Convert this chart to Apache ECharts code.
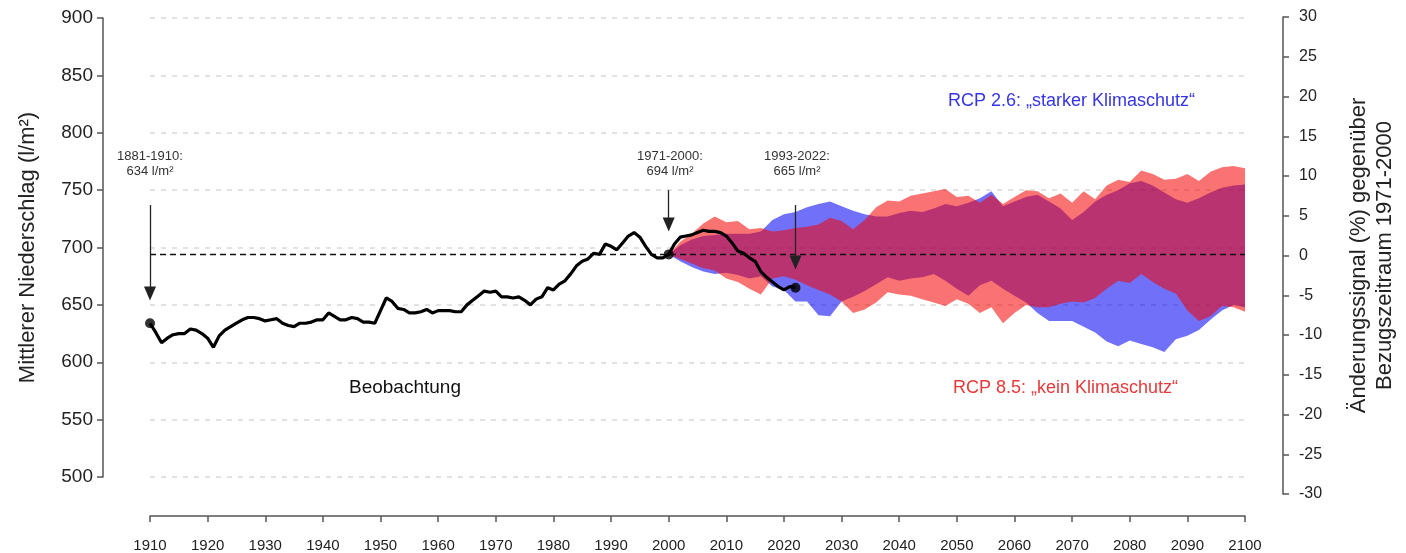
<!DOCTYPE html>
<html>
<head>
<meta charset="utf-8">
<title>Mittlerer Niederschlag</title>
<script src="https://cdn.jsdelivr.net/npm/echarts@6/dist/echarts.min.js"></script>
<style>
    *{margin:0;padding:0;}
    body{background:#fff;}
    #main{width:1406px;height:553px;}
</style>
</head>
<body>
<div id="main"></div>
<script>
    // Beobachtung, gleitendes Mittel (l/m²), ab 1910 jaehrlich
    var obsStart = 1910;
    var obsValues = [
        634,626,617,621,624,625,625,629,628,625,
        621,613,623,628,631,634,637,639,639,638,
        636,637,638,634,632,631,634,634,635,637,
        637,643,640,637,637,639,638,635,635,634,
        645,656,653,647,646,643,643,644,646,643,
        645,645,645,644,644,650,654,658,662,661,
        662,657,657,656,657,654,650,655,657,665,
        663,668,671,677,684,688,690,695,694,703,
        701,698,704,710,713,709,701,694,691,691,
        694,703,709,710,711,713,715,714,714,713,
        710,704,697,695,691,688,679,674,670,666,
        663,666,665
    ];
    var refValue = 694;
    var dotYears = [1910, 2000, 2022];
    var dotValues = [634, 694, 665];

    // Projektionen (Bandbreite)
    var projYears = [2000,2002,2004,2006,2008,2010,2012,2014,2016,2018,
        2020,2022,2024,2026,2028,2030,2032,2034,2036,2038,
        2040,2042,2044,2046,2048,2050,2052,2054,2056,2058,
        2060,2062,2064,2066,2068,2070,2072,2074,2076,2078,
        2080,2082,2084,2086,2088,2090,2092,2094,2096,2098,2100];
    var rcp26High = [694,702,707,710,711,712,712,712,714,724,
        729,731,735,738,740,736,732,729,727,727,
        730,732,731,734,738,736,739,743,749,736,
        740,744,746,740,734,724,731,740,746,750,
        756,758,754,748,742,739,743,748,752,754,755];
    var rcp26Low = [694,688,683,679,677,678,676,673,675,666,
        663,653,653,641,640,653,657,662,668,674,
        671,673,674,677,671,664,658,667,671,664,
        658,652,643,636,636,636,631,626,618,614,
        619,616,613,609,620,623,628,637,645,650,648];
    var rcp85High = [694,705,712,721,727,722,723,716,717,714,
        715,717,718,720,726,723,716,724,735,741,
        740,745,747,749,751,744,745,739,746,738,
        744,750,749,743,747,739,749,742,754,759,
        757,767,764,759,760,764,758,766,770,771,769];
    var rcp85Low = [694,690,686,682,680,673,670,664,659,673,
        675,672,667,663,659,653,643,646,652,661,
        659,658,655,652,649,655,651,643,648,634,
        643,650,648,648,651,653,652,656,664,671,
        669,677,670,664,660,645,636,640,649,648,644];

    // Pfeile: Jahr, Start, Ende
    var arrowYears = [1910, 2000, 2022];
    var arrowFrom = [737, 750, 737];
    var arrowTo = [660, 720, 687];

    var font = '"Liberation Sans", Arial, sans-serif';
    var axisColor = '#555';

    var obsData = [];
    for (var i = 0; i < obsValues.length; i++) {
        obsData.push([obsStart + i, obsValues[i]]);
    }
    var dotData = [];
    for (var i = 0; i < dotYears.length; i++) {
        dotData.push([dotYears[i], dotValues[i]]);
    }
    var arrowData = [];
    for (var i = 0; i < arrowYears.length; i++) {
        arrowData.push([{coord: [arrowYears[i], arrowFrom[i]]}, {coord: [arrowYears[i], arrowTo[i]]}]);
    }

    function band(name, low, high, color) {
        return {
            name: name,
            type: 'custom',
            xAxisIndex: 0,
            yAxisIndex: 0,
            silent: true,
            data: projYears.map(function (y, k) { return [y, low[k], high[k]]; }),
            encode: {x: 0, y: [1, 2]},
            renderItem: function (params, api) {
                if (params.dataIndex !== 0) return null;
                var pts = [];
                for (var k = 0; k < projYears.length; k++) {
                    pts.push(api.coord([projYears[k], high[k]]));
                }
                for (var k = projYears.length - 1; k >= 0; k--) {
                    pts.push(api.coord([projYears[k], low[k]]));
                }
                return {type: 'polygon', shape: {points: pts}, style: {fill: color}};
            }
        };
    }

    var myChart = echarts.init(document.getElementById('main'));
    var option = {
        animation: false,
        textStyle: {fontFamily: font},
        grid: [
            {left: 150, right: 161, top: 18, bottom: 76},
            {left: 150, right: 161, top: 17, bottom: 59}
        ],
        xAxis: [
            {
                gridIndex: 0, type: 'value', min: 1910, max: 2100, interval: 10, offset: 39,
                axisLine: {show: true, lineStyle: {color: axisColor, width: 1.5}},
                axisTick: {show: true, length: 6, lineStyle: {color: axisColor, width: 1.5}},
                axisLabel: {margin: 22, fontSize: 15, color: '#222', fontFamily: font,
                    formatter: function (v) { return String(v); }},
                splitLine: {show: false}
            },
            {gridIndex: 1, type: 'value', min: 1910, max: 2100, show: false}
        ],
        yAxis: [
            {
                gridIndex: 0, type: 'value', min: 500, max: 900, interval: 50,
                position: 'left', offset: 47,
                name: 'Mittlerer Niederschlag (l/m²)', nameLocation: 'middle', nameGap: 64,
                nameTextStyle: {fontSize: 22, color: '#222', fontFamily: font},
                axisLine: {show: true, lineStyle: {color: axisColor, width: 1.5}},
                axisTick: {show: true, length: 6, lineStyle: {color: axisColor, width: 1.5}},
                axisLabel: {margin: 10, fontSize: 19, color: '#222', fontFamily: font},
                splitLine: {show: true, lineStyle: {color: '#d9d9d9', type: [5, 6], width: 1.5}}
            },
            {
                gridIndex: 1, type: 'value', min: -30, max: 30, interval: 5,
                position: 'right', offset: 51,
                name: 'Änderungssignal (%) gegenüber\nBezugszeitraum 1971-2000',
                nameLocation: 'middle', nameGap: 63,
                nameTextStyle: {fontSize: 22, color: '#222', lineHeight: 26, fontFamily: font},
                axisLine: {show: true, lineStyle: {color: axisColor, width: 1.5}},
                axisTick: {show: true, length: 6, lineStyle: {color: axisColor, width: 1.5}},
                axisLabel: {margin: 16, fontSize: 16, color: '#222', fontFamily: font},
                splitLine: {show: false}
            }
        ],
        series: [
            band('RCP 2.6', rcp26Low, rcp26High, 'rgba(0,0,245,0.56)'),
            band('RCP 8.5', rcp85Low, rcp85High, 'rgba(245,0,0,0.55)'),
            {
                name: 'Referenz',
                type: 'line',
                xAxisIndex: 0, yAxisIndex: 0,
                data: [[1910, refValue], [2100, refValue]],
                symbol: 'none',
                silent: true,
                lineStyle: {color: '#111', width: 1.5, type: [6, 4]}
            },
            {
                name: 'Beobachtung',
                type: 'line',
                xAxisIndex: 0, yAxisIndex: 0,
                data: obsData,
                symbol: 'none',
                silent: true,
                lineStyle: {color: '#000', width: 3.2},
                markLine: {
                    silent: true,
                    symbol: ['none', 'triangle'],
                    symbolSize: [12, 14],
                    label: {show: false},
                    lineStyle: {type: 'solid', color: '#222', width: 1.3},
                    data: arrowData
                }
            },
            {
                name: 'Punkte',
                type: 'scatter',
                xAxisIndex: 0, yAxisIndex: 0,
                data: dotData,
                symbolSize: 10,
                silent: true,
                itemStyle: {color: '#000'}
            }
        ],
        graphic: [
            {type: 'text', x: 150, y: 149, style: {text: '1881-1910:\n634 l/m²', fill: '#333', font: '13px ' + font, align: 'center', lineHeight: 15}},
            {type: 'text', x: 670, y: 149, style: {text: '1971-2000:\n694 l/m²', fill: '#333', font: '13px ' + font, align: 'center', lineHeight: 15}},
            {type: 'text', x: 797, y: 149, style: {text: '1993-2022:\n665 l/m²', fill: '#333', font: '13px ' + font, align: 'center', lineHeight: 15}},
            {type: 'text', x: 948, y: 101, style: {text: 'RCP 2.6: „starker Klimaschutz“', fill: '#3535e6', font: '18px ' + font, verticalAlign: 'middle'}},
            {type: 'text', x: 953, y: 388, style: {text: 'RCP 8.5: „kein Klimaschutz“', fill: '#e63a3a', font: '18px ' + font, verticalAlign: 'middle'}},
            {type: 'text', x: 349, y: 388, style: {text: 'Beobachtung', fill: '#111', font: '19px ' + font, verticalAlign: 'middle'}}
        ]
    };
    myChart.setOption(option);
</script>
</body>
</html>
